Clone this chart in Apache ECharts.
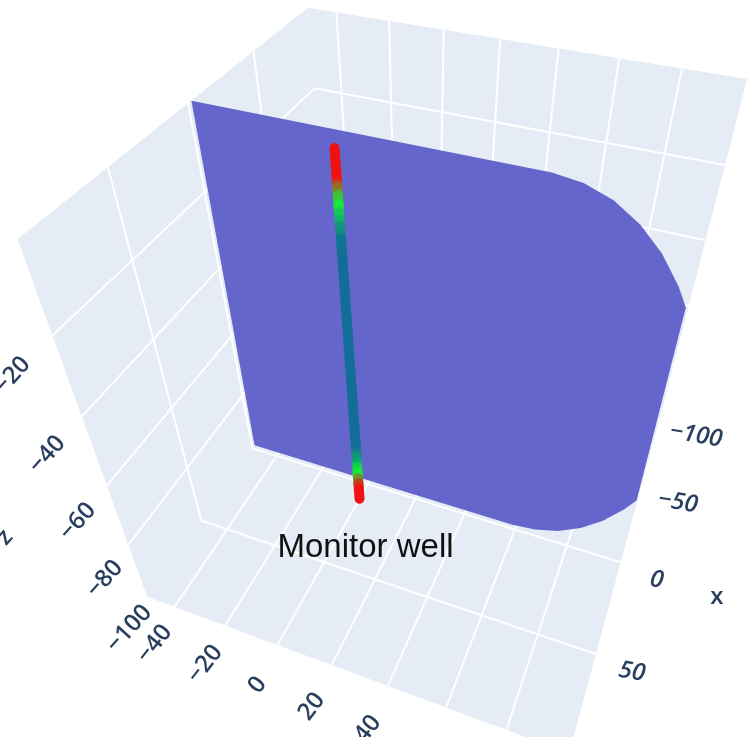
<!DOCTYPE html>
<html><head><meta charset="utf-8">
<script src="https://cdn.jsdelivr.net/npm/echarts@6/dist/echarts.min.js"></script>
<style>html,body{margin:0;padding:0;background:#fff}#c{width:748px;height:737px}</style>
</head><body><div id="c"></div>
<script>
// ---- axis ranges and ticks (data units) ----
const X_RANGE=[-100,95.47];
const Y_RANGE=[-51.1,100];
const Z_RANGE=[-100,0];
const X_TICKS=[-100,-50,0,50];
const Y_TICKS=[-40,-20,0,20,40,60,80];
const Y_TICK_LABELS=[-40,-20,0,20,40];
const Z_TICKS=[-100,-80,-60,-40,-20];

// ---- fracture plane (x = const), outline in (y, z) ----
const PLANE_X=-2.3;
const PLANE_Y=[-51.1,58.5,67.2,75.6,83.5,90.6,96.8,100,100,96.8,90.6,83.5,75.6,67.2,58.5,-51.1];
const PLANE_Z=[0,0,-0.8,-3.0,-6.7,-11.7,-17.9,-22.1,-77.9,-82.1,-88.3,-93.3,-97.0,-99.2,-100,-100];

// ---- monitor well (vertical) ----
const WELL_X=10, WELL_Y=0;
const WELL_Z=[0,-3,-6,-8,-10,-12,-14,-17,-20,-25,-40,-60,-80,-84,-88,-90,-92,-94,-96,-100];
const WELL_VAL=[1,1,1,0.8,0.6,0.5,0.35,0.15,0.03,0,0,0,0,0.15,0.4,0.5,0.7,0.9,1,1];
const WELL_NAME='Monitor well';

// ---- scene camera (perspective) ----
const CAMERA={azimuth:0.36141266,elevation:0.73907169,roll:-0.0087023872,distance:3.9241628,focal:903.61514,cx:428.67105,cy:357.24282,kx:0.010319550,ky:0.013264862};

function cross(a,b){return [a[1]*b[2]-a[2]*b[1],a[2]*b[0]-a[0]*b[2],a[0]*b[1]-a[1]*b[0]];}
function dot(a,b){return a[0]*b[0]+a[1]*b[1]+a[2]*b[2];}
function makeProjector(c){
  const dir=[Math.cos(c.elevation)*Math.cos(c.azimuth),Math.cos(c.elevation)*Math.sin(c.azimuth),Math.sin(c.elevation)];
  const eye=dir.map(v=>v*c.distance);
  const fw=dir.map(v=>-v);
  let r0=[fw[1],-fw[0],0];const n=Math.hypot(r0[0],r0[1]);r0=[r0[0]/n,r0[1]/n,0];
  const d0=cross(fw,r0);
  const cr=Math.cos(c.roll),sr=Math.sin(c.roll);
  const R=[0,1,2].map(i=>r0[i]*cr+d0[i]*sr);
  const D=[0,1,2].map(i=>d0[i]*cr-r0[i]*sr);
  const zMid=(Z_RANGE[0]+Z_RANGE[1])/2,zHalf=(Z_RANGE[1]-Z_RANGE[0])/2;
  return (x,y,z)=>{
    const p=[c.kx*x,c.ky*(y-25),(z-zMid)/zHalf];
    const v=[p[0]-eye[0],p[1]-eye[1],p[2]-eye[2]];
    const Z=dot(v,fw);
    return [c.cx+c.focal*dot(v,R)/Z,c.cy+c.focal*dot(v,D)/Z];
  };
}
const P=makeProjector(CAMERA);
const [XMIN,XMAX]=X_RANGE,[YMIN,YMAX]=Y_RANGE,[ZMIN,ZMAX]=Z_RANGE;

const FACES=[
 [[XMIN,YMIN,ZMIN],[XMIN,YMAX,ZMIN],[XMIN,YMAX,ZMAX],[XMIN,YMIN,ZMAX]],
 [[XMIN,YMIN,ZMIN],[XMAX,YMIN,ZMIN],[XMAX,YMIN,ZMAX],[XMIN,YMIN,ZMAX]],
 [[XMIN,YMIN,ZMIN],[XMAX,YMIN,ZMIN],[XMAX,YMAX,ZMIN],[XMIN,YMAX,ZMIN]]
];
const inR=(v,a,b)=>v>a+1e-6&&v<b-1e-6;
const GRID=[];
Y_TICKS.filter(v=>inR(v,YMIN,YMAX)).forEach(y=>{GRID.push([[XMIN,y,ZMIN],[XMIN,y,ZMAX]]);GRID.push([[XMIN,y,ZMIN],[XMAX,y,ZMIN]]);});
Z_TICKS.filter(v=>inR(v,ZMIN,ZMAX)).forEach(z=>{GRID.push([[XMIN,YMIN,z],[XMIN,YMAX,z]]);GRID.push([[XMIN,YMIN,z],[XMAX,YMIN,z]]);});
X_TICKS.filter(v=>inR(v,XMIN,XMAX)).forEach(x=>{GRID.push([[x,YMIN,ZMIN],[x,YMIN,ZMAX]]);GRID.push([[x,YMIN,ZMIN],[x,YMAX,ZMIN]]);});

const STOPS=[[0,[18,110,152]],[0.5,[20,235,60]],[1,[240,18,18]]];
function col(v){for(let i=1;i<STOPS.length;i++){if(v<=STOPS[i][0]){const a=STOPS[i-1],b=STOPS[i];const t=(v-a[0])/(b[0]-a[0]);const c=a[1].map((x,k)=>Math.round(x+(b[1][k]-x)*t));return 'rgb('+c.join(',')+')';}}return 'rgb(240,18,18)';}
const mn=s=>String(s).replace('-','−');
const LABELS=[];
X_TICKS.forEach(x=>LABELS.push({p:P(x,YMAX,ZMIN),t:mn(x),dx:36,dy:18,r:-10,it:true}));
Y_TICK_LABELS.forEach((y,i)=>LABELS.push({p:P(XMAX,y,ZMIN),t:mn(y),dx:-20,dy:37+i*1.5,r:52}));
Z_TICKS.forEach((z,i)=>LABELS.push({p:P(XMAX,YMIN,z),t:mn(z),dx:-18-5.5*i,dy:32+2*i,r:48}));
LABELS.push({p:P(0,YMAX,ZMIN),t:'x',dx:96,dy:35,r:0});
LABELS.push({p:P(XMAX,YMIN,(ZMIN+ZMAX)/2),t:'z',dx:-90,dy:85,r:48});

const chart=echarts.init(document.getElementById('c'),null,{renderer:'canvas'});
const poly=(pts,api)=>pts.map(p=>api.coord(P(p[0],p[1],p[2])));
chart.setOption({
 animation:false,
 grid:{left:0,top:0,width:748,height:737},
 xAxis:{type:'value',min:0,max:748,show:false},
 yAxis:{type:'value',min:0,max:737,inverse:true,show:false},
 series:[
  {type:'custom',silent:true,data:FACES.map((f,i)=>[i]),renderItem:(p,api)=>({type:'polygon',shape:{points:poly(FACES[p.dataIndex],api)},style:{fill:'#E5ECF6'}})},
  {type:'custom',silent:true,data:GRID.map((g,i)=>[i]),renderItem:(p,api)=>({type:'polyline',shape:{points:poly(GRID[p.dataIndex],api)},style:{stroke:'#fff',lineWidth:2,fill:null}})},
  {type:'custom',silent:true,data:[[0]],renderItem:(p,api)=>({type:'polygon',shape:{points:PLANE_Y.map((y,i)=>api.coord(P(PLANE_X,y,PLANE_Z[i])))},style:{fill:'#6566CC'}})},
  {type:'custom',silent:true,data:WELL_Z.slice(1).map((z,i)=>[i]),renderItem:(p,api)=>{const i=p.dataIndex;const a=api.coord(P(WELL_X,WELL_Y,WELL_Z[i])),b=api.coord(P(WELL_X,WELL_Y,WELL_Z[i+1]));
    return {type:'line',shape:{x1:a[0],y1:a[1],x2:b[0],y2:b[1]},style:{lineWidth:10,lineCap:'round',stroke:new echarts.graphic.LinearGradient(a[0],a[1],b[0],b[1],[{offset:0,color:col(WELL_VAL[i])},{offset:1,color:col(WELL_VAL[i+1])}],true)}};}},
  {type:'custom',silent:true,data:LABELS.map((l,i)=>[i]),renderItem:(p,api)=>{const l=LABELS[p.dataIndex];const c=api.coord(l.p);return {type:'text',x:c[0]+l.dx,y:c[1]+l.dy,rotation:l.r*Math.PI/180,style:{text:l.t,fill:'#2a3f5f',font:(l.it?'italic ':'')+'600 24px "Open Sans"',align:'center',verticalAlign:'middle'}};}},
  {type:'custom',silent:true,data:[[0]],renderItem:(p,api)=>{const c=api.coord(P(WELL_X,WELL_Y,WELL_Z[WELL_Z.length-1]));return {type:'text',x:c[0]+6,y:c[1]+49,style:{text:WELL_NAME,fill:'#111',font:'33px "Liberation Sans"',align:'center',verticalAlign:'middle'}};}}
 ]
});
</script></body></html>
